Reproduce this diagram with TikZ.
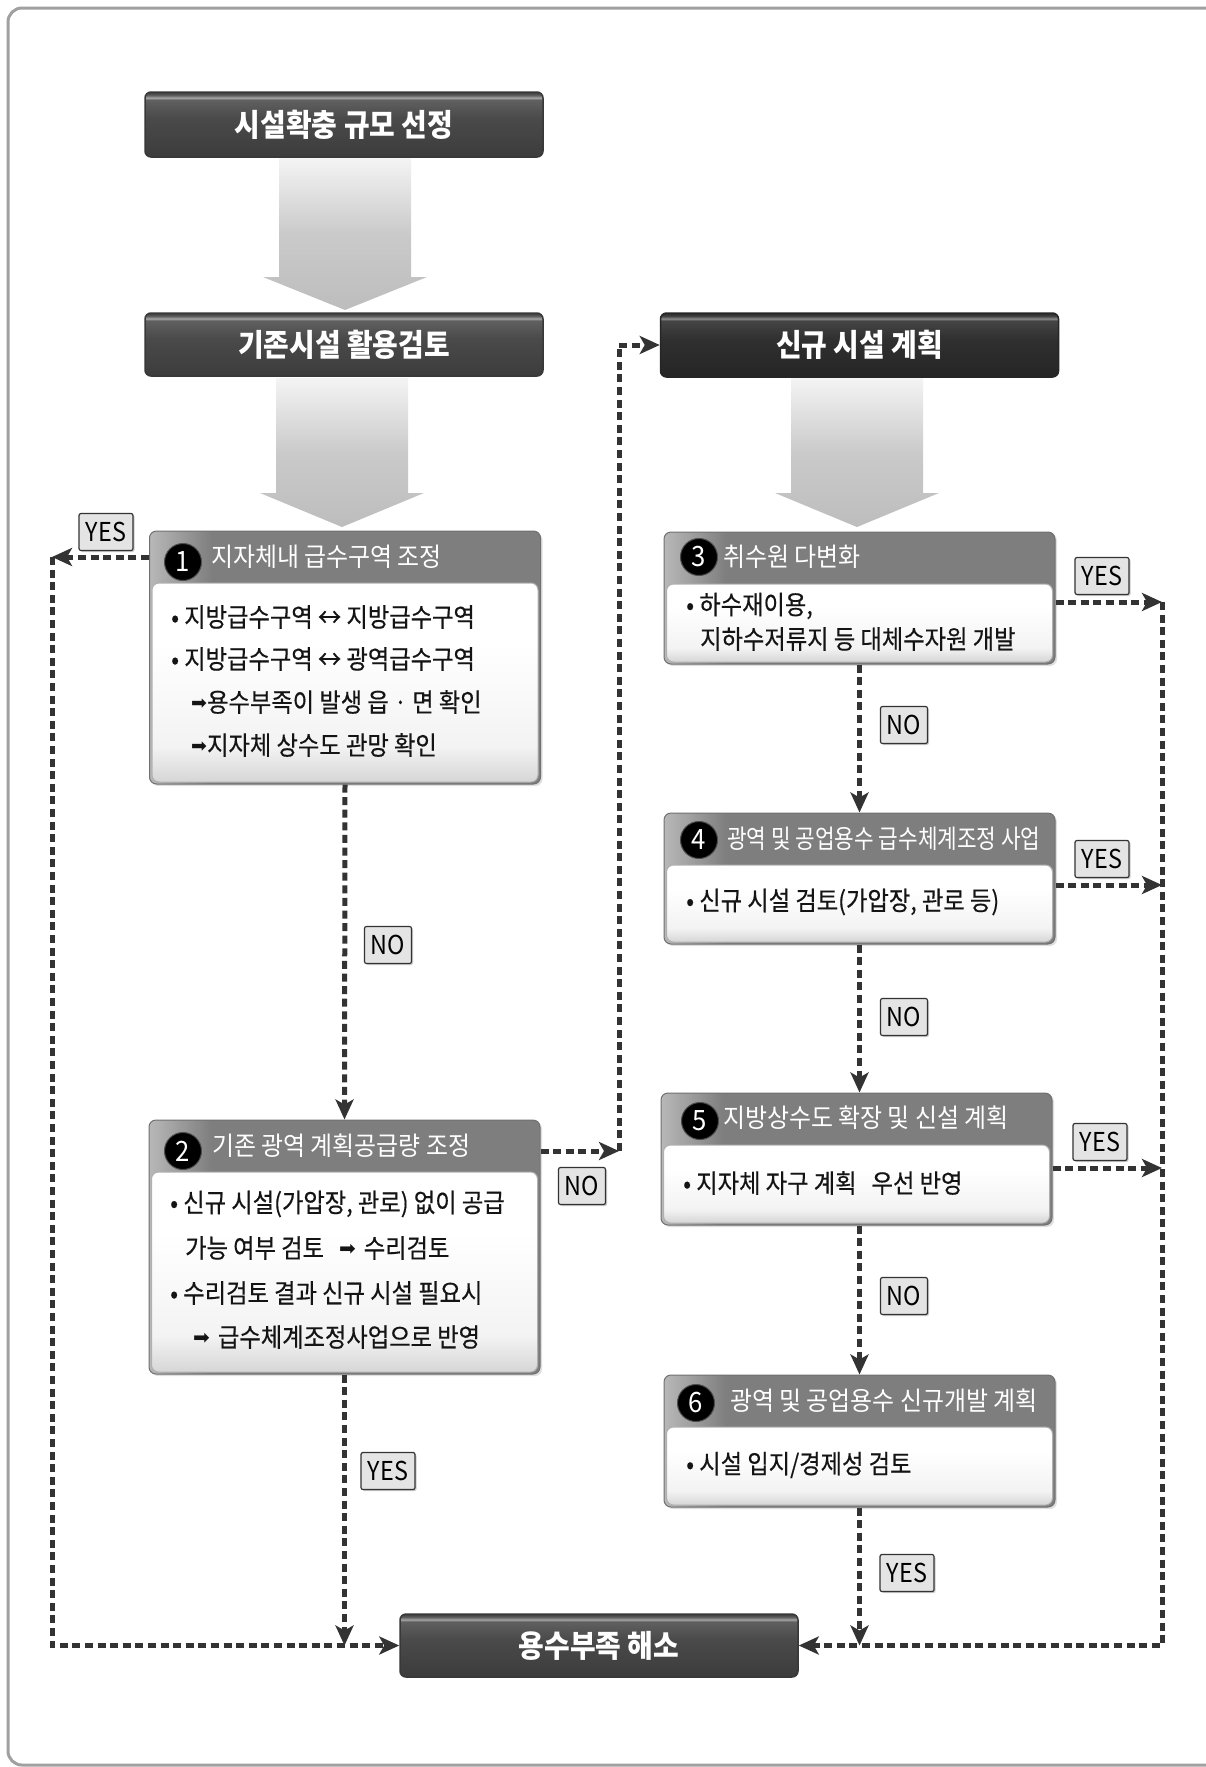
\documentclass[tikz,border=0pt]{standalone}
\usepackage{fontspec}
\setmainfont{Noto Sans CJK KR}
\newfontfamily\krbody[FakeStretch=0.895,FakeBold=0.4]{Noto Sans CJK KR}
\newfontfamily\krhead[FakeStretch=0.92]{Noto Sans CJK KR}
\newfontfamily\krnarrow[FakeStretch=0.82]{Noto Sans CJK KR}
\newfontfamily\krtitle[FakeStretch=0.9]{Noto Sans CJK KR}
\newfontfamily\krlab[FakeStretch=0.9]{Noto Sans CJK KR}
\newfontfamily\symfont{DejaVu Sans}
\usetikzlibrary{arrows.meta,shadows}

\definecolor{dk}{HTML}{333333}
\definecolor{framecol}{HTML}{A0A0A0}
\definecolor{pedge}{HTML}{707070}
\definecolor{bedge}{HTML}{B0B0B0}
\definecolor{labfill}{HTML}{E4E4E4}
\definecolor{txt}{HTML}{141414}
\definecolor{hA}{HTML}{B8B8B8}
\definecolor{hB}{HTML}{7E7E7E}
\definecolor{bA}{HTML}{D6D6D6}
\definecolor{bB}{HTML}{F3F3F3}
\definecolor{ts0}{HTML}{383838}
\definecolor{tsh}{HTML}{A5A5A5}
\definecolor{ts1}{HTML}{606060}
\definecolor{ts2}{HTML}{4A4A4A}
\definecolor{ts3}{HTML}{3C3C3C}
\definecolor{ns0}{HTML}{262626}
\definecolor{nsh}{HTML}{8A8A8A}
\definecolor{ns1}{HTML}{454545}
\definecolor{ns2}{HTML}{303030}
\definecolor{ns3}{HTML}{252525}
\definecolor{aA}{HTML}{BDBDBD}
\definecolor{aB}{HTML}{CACACA}
\definecolor{aC}{HTML}{F4F4F4}

\pgfdeclarehorizontalshading{hdrsh}{100bp}{color(0bp)=(hA); color(25bp)=(hA); color(33bp)=(hB); color(100bp)=(hB)}
\pgfdeclareverticalshading{bodysh}{100bp}{color(0bp)=(bA); color(25bp)=(bA); color(34bp)=(bB); color(60bp)=(white); color(100bp)=(white)}
\pgfdeclareverticalshading{titlesh}{100bp}{color(0bp)=(ts3); color(25bp)=(ts3); color(55bp)=(ts2); color(69bp)=(ts1); color(70.5bp)=(tsh); color(72.5bp)=(ts1); color(75bp)=(ts0); color(100bp)=(ts0)}
\pgfdeclareverticalshading{newsh}{100bp}{color(0bp)=(ns3); color(25bp)=(ns3); color(55bp)=(ns2); color(69bp)=(ns1); color(70.5bp)=(nsh); color(72.5bp)=(ns1); color(75bp)=(ns0); color(100bp)=(ns0)}
\pgfdeclareverticalshading{arrsh}{100bp}{color(0bp)=(aA); color(25bp)=(aA); color(50bp)=(aB); color(75bp)=(aC); color(100bp)=(aC)}

\tikzset{
  titlebox/.style={rounded corners=6pt, draw=ts0, line width=1.5pt, shading=titlesh,
    minimum width=398pt, minimum height=64pt, inner sep=0, text=white,
    font=\krtitle\bfseries\fontsize{31}{31}\selectfont},
  newbox/.style={titlebox, shading=newsh, draw=ns0},
  pbase/.style={rounded corners=7pt, draw=pedge, line width=1pt, shading=hdrsh, inner sep=0,
    minimum width=391pt,
    drop shadow={opacity=0.25, shadow xshift=2pt, shadow yshift=-2pt}},
  pbody/.style={rounded corners=7pt, draw=bedge, line width=1pt, shading=bodysh, inner sep=0,
    minimum width=386pt},
  ncirc/.style={circle, fill=black, draw=black!70, line width=1pt, minimum size=37pt,
    inner sep=0, text=white, font=\krhead\fontsize{28}{28}\selectfont},
  htxt/.style={anchor=west, inner sep=0, text=white, font=\krhead\fontsize{26}{26}\selectfont},
  btxt/.style={anchor=west, inner sep=0, text=txt, font=\krbody\fontsize{26}{26}\selectfont},
  lab/.style={draw=dk, fill=labfill, line width=1.2pt, rounded corners=2pt,
    minimum height=37pt, inner sep=0, text=black,
    font=\krlab\fontsize{26}{26}\selectfont,
    drop shadow={shadow xshift=1.5pt, shadow yshift=-1.5pt, fill=black!40}},
  yeslab/.style={lab, minimum width=54pt},
  nolab/.style={lab, minimum width=47pt},
  dl/.style={draw=dk, line width=5pt, dash pattern=on 8pt off 4.6pt,
    -{Stealth[length=20pt,width=18pt,inset=5pt]}}
}

\newcommand{\grayarrow}[4]{%
  \shade[shading=arrsh] ({#1-66},#2) -- ({#1+66},#2) -- ({#1+66},#3) -- ({#1+82},#3)
    -- (#1,#4) -- ({#1-82},#3) -- ({#1-66},#3) -- cycle;}
\newcommand{\bigarrowsym}[2]{\raisebox{#2pt}{\symfont\fontsize{#1}{#1}\selectfont ➡}}

\begin{document}
\begin{tikzpicture}[x=1pt,y=-1pt]
\useasboundingbox (0,0) rectangle (1206,1767);
\fill[white] (0,0) rectangle (1206,1767);
\draw[framecol, line width=3pt, rounded corners=14pt] (1240,8) -- (8,8) -- (8,1765) -- (1240,1765);

% big gray arrows
\grayarrow{345}{158}{277}{310}
\grayarrow{342}{378}{493}{527}
\grayarrow{857}{378}{493}{527}

% title boxes
\node[titlebox, minimum height=65pt] (t1) at (344,124.5) {시설확충 규모 선정};
\node[titlebox, minimum height=63pt] (t2) at (344,344.5) {기존시설 활용검토};
\node[newbox] (new) at (859.5,345) {신규 시설 계획};
\node[titlebox, minimum height=63pt] (fin) at (599,1645.5) {용수부족 해소};

% panel 1
\node[pbase, minimum height=253pt] (p1) at (345,657.5) {};
\node[pbody, minimum height=199pt, anchor=south] (p1b) at ([yshift=2pt]p1.south) {};
\node[ncirc] (p1c) at (183,562) {1};
\node[htxt] (p1t) at (211,557) {지자체내 급수구역 조정};
\node[btxt] (p1l1) at (171,617) {• 지방급수구역 ↔ 지방급수구역};
\node[btxt] (p1l2) at (171,659) {• 지방급수구역 ↔ 광역급수구역};
\node[btxt] (p1l3) at (191,702) {\bigarrowsym{19}{2}용수부족이 발생 읍 · 면 확인};
\node[btxt] (p1l4) at (191,745) {\bigarrowsym{19}{2}지자체 상수도 관망 확인};

% panel 2
\node[pbase, minimum height=254pt] (p2) at (344.5,1247) {};
\node[pbody, minimum height=200pt, anchor=south] (p2b) at ([yshift=2pt]p2.south) {};
\node[ncirc] (p2c) at (183,1151) {2};
\node[htxt] (p2t) at (212,1146) {기존 광역 계획공급량 조정};
\node[btxt] (p2l1) at (170,1204) {• 신규 시설(가압장, 관로) 없이 공급};
\node[btxt] (p2l2) at (185,1248) {가능 여부 검토\hspace{15pt}\bigarrowsym{20}{2}\hspace{8pt}수리검토};
\node[btxt] (p2l3) at (170,1293) {• 수리검토 결과 신규 시설 필요시};
\node[btxt] (p2l4) at (193,1337) {\bigarrowsym{20}{2}\hspace{8pt}급수체계조정사업으로 반영};

% panel 3
\node[pbase, minimum height=132pt] (p3) at (859.5,598) {};
\node[pbody, minimum height=78pt, anchor=south] (p3b) at ([yshift=2pt]p3.south) {};
\node[ncirc] (p3c) at (699,557) {3};
\node[htxt] (p3t) at (723,557) {취수원 다변화};
\node[btxt] (p3l1) at (686,606) {• 하수재이용,};
\node[btxt] (p3l2) at (700,639) {지하수저류지 등 대체수자원 개발};

% panel 4
\node[pbase, minimum height=131pt] (p4) at (859.5,878.5) {};
\node[pbody, minimum height=77pt, anchor=south] (p4b) at ([yshift=2pt]p4.south) {};
\node[ncirc] (p4c) at (699,840) {4};
\node[htxt, font=\krnarrow\fontsize{26}{26}\selectfont] (p4t) at (727,839) {광역 및 공업용수 급수체계조정 사업};
\node[btxt] (p4l1) at (686,902) {• 신규 시설 검토(가압장, 관로 등)};

% panel 5
\node[pbase, minimum height=132pt] (p5) at (856.5,1159) {};
\node[pbody, minimum height=78pt, anchor=south] (p5b) at ([yshift=2pt]p5.south) {};
\node[ncirc] (p5c) at (700,1121) {5};
\node[htxt] (p5t) at (723,1118) {지방상수도 확장 및 신설 계획};
\node[btxt] (p5l1) at (683,1183) {• 지자체 자구 계획\hspace{15pt}우선 반영};

% panel 6
\node[pbase, minimum height=132pt] (p6) at (859.5,1441) {};
\node[pbody, minimum height=78pt, anchor=south] (p6b) at ([yshift=2pt]p6.south) {};
\node[ncirc] (p6c) at (696,1403) {6};
\node[htxt] (p6t) at (730,1401) {광역 및 공업용수 신규개발 계획};
\node[btxt] (p6l1) at (686,1465) {• 시설 입지/경제성 검토};

% corner coordinates
\coordinate (k1) at (52,557);
\coordinate (k2) at (619,1151);
\coordinate (k3) at (1162,602);
\coordinate (k4) at (1162,885);
\coordinate (k5) at (1162,1168);

% connectors
\draw[dl] (p1.west |- k1) -- (k1);
\draw[dl] (k1) |- (fin.west);
\draw[dl] (p1.south) -- (p2.north);
\draw[dl] (p2.south) -- (p2.south |- fin.west);
\draw[dl] (p2.east |- k2) -- (k2);
\draw[dl] (k2) |- (new.west);
\draw[dl] (p3.south) -- (p4.north);
\draw[dl] (p4.south) -- (p4.south |- p5.north);
\draw[dl] (p6.north |- p5.south) -- (p6.north);
\draw[dl] (p6.south) -- (p6.south |- fin.east);
\draw[dl] (p3.east |- k3) -- (k3);
\draw[dl] (p4.east |- k4) -- (k4);
\draw[dl] (p5.east |- k5) -- (k5);
\draw[dl] (k3) |- (fin.east);

% labels
\node[yeslab] (y1) at (106,532) {YES};
\node[nolab] (n1) at (388,945) {NO};
\node[yeslab] (y2) at (388,1471) {YES};
\node[nolab] (n2) at (582,1186) {NO};
\node[yeslab] (y3) at (1102,576) {YES};
\node[nolab] (n3) at (904,725) {NO};
\node[yeslab] (y4) at (1102,859) {YES};
\node[nolab] (n4) at (904,1017) {NO};
\node[yeslab] (y5) at (1100,1142) {YES};
\node[nolab] (n5) at (904,1296) {NO};
\node[yeslab] (y6) at (907,1573) {YES};
\end{tikzpicture}
\end{document}
